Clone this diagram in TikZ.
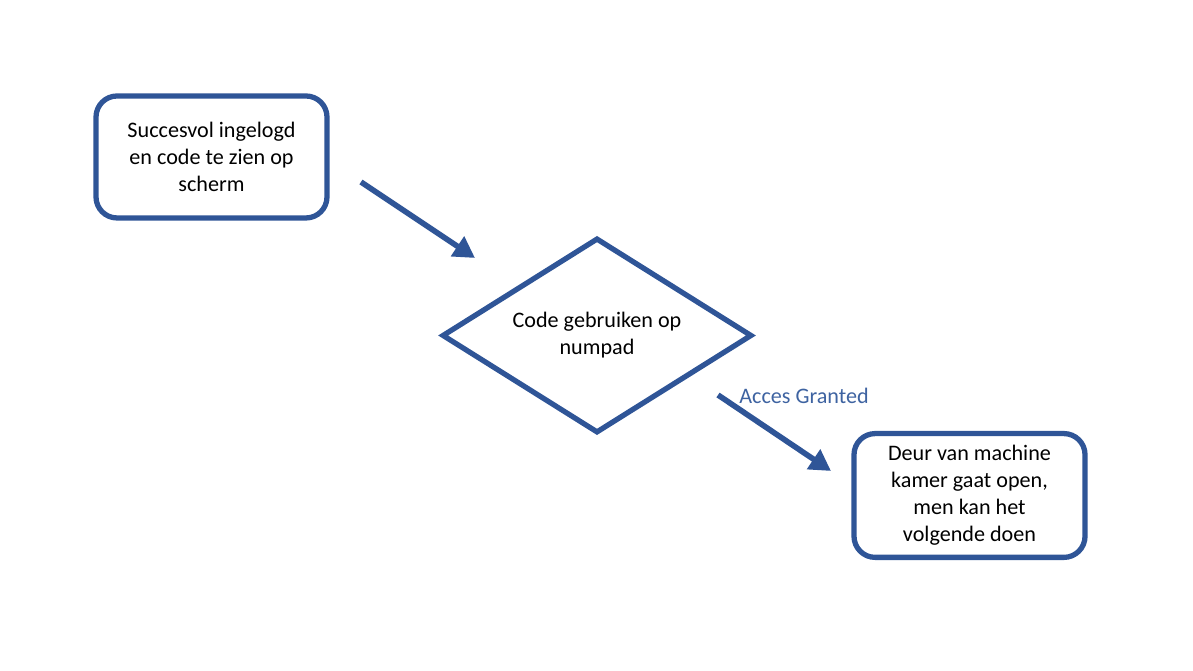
\documentclass[tikz,border=0pt]{standalone}
\usepackage{fontspec}
\setmainfont{Carlito}
\usepackage{tikz}
\usetikzlibrary{shapes.geometric}
\usetikzlibrary{arrows.meta}
\usetikzlibrary{calc}
\definecolor{myBlue}{HTML}{2F5597}
\definecolor{myLabel}{HTML}{3E63A1}
\tikzset{
  stepbox/.style={draw=myBlue, line width=1.5pt, rounded corners=6pt,
    minimum width=2.31cm, minimum height=1.22cm, align=center,
    font=\fontsize{6.3}{7.7}\selectfont},
  choice/.style={draw=myBlue, line width=1.5pt, diamond, aspect=1.6,
    inner sep=0pt, minimum width=3.1cm, minimum height=1.95cm, align=center,
    font=\fontsize{6.3}{7.7}\selectfont},
  flow/.style={draw=myBlue, line width=1.6pt,
    -{Triangle[length=6pt, width=6.5pt]}},
}

\begin{document}
\begin{tikzpicture}

%%%%%%%%%%%%%%%%%%%%%%%%%%%%%%%%%%%%%%%%%%%%%%%%%%%%%%%%%%%%%% Setup
\coordinate (C) at (0, 0);
% just to have nice boundaries to the picture
\useasboundingbox ($(C)$) rectangle ($(C)+(11.93,6.71)$);

%%%%%%%%%%%%%%%%%%%%%%%%%%%%%%%%%%%%%%%%%%%%%%%%%%%%%%%%%%%%%% Nodes
\node[stepbox] (login) at ($(C)+(2.115,5.14)$) {Succesvol ingelogd\\en code te zien op\\scherm};
\node[choice] (code) at ($(C)+(5.97,3.355)$) {Code gebruiken op\\numpad};
\node[stepbox] (door) at ($(C)+(9.695,1.755)$) {Deur van machine\\kamer gaat open,\\men kan het\\volgende doen};

%%%%%%%%%%%%%%%%%%%%%%%%%%%%%%%%%%%%%%%%%%%%%%%%%%%%%%%%%%%%%% Arrows
\coordinate (loginOut) at ($(C)+(3.61,4.89)$);
\coordinate (codeIn) at ($(C)+(4.75,4.13)$);
\coordinate (codeOut) at ($(C)+(7.18,2.76)$);
\coordinate (doorIn) at ($(C)+(8.31,2.00)$);

\draw[flow] (loginOut) -- (codeIn);
\draw[flow] (codeOut) -- (doorIn);
\node[text=myLabel, font=\fontsize{6.3}{7.7}\selectfont] (granted) at ($(C)+(8.04,2.75)$) {Acces Granted};

\end{tikzpicture}
\end{document}
